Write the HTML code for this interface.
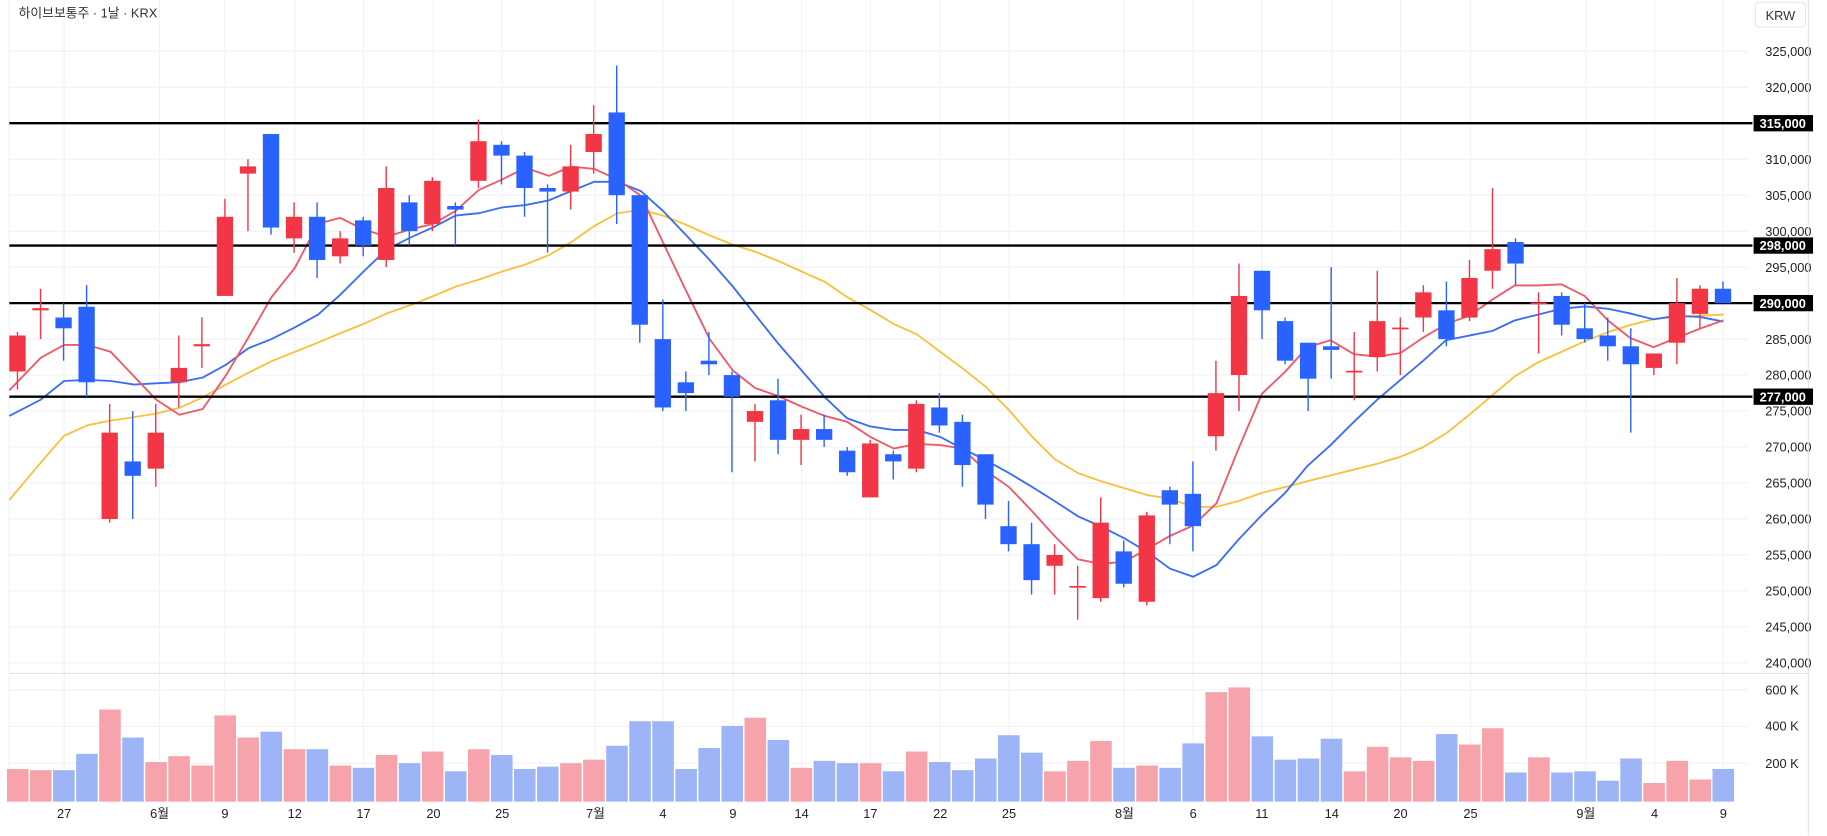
<!DOCTYPE html>
<html><head><meta charset="utf-8"><style>
html,body{margin:0;padding:0;background:#fff;width:1827px;height:836px;overflow:hidden}
svg{display:block}
text{font-family:"Liberation Sans","Noto Sans CJK KR",sans-serif}
</style></head><body>
<svg id="s" width="1827" height="836" viewBox="0 0 1568 717.5" preserveAspectRatio="none" xmlns="http://www.w3.org/2000/svg"></svg>
<script>
const S=document.getElementById('s');let h='';
const y=p=>44+(325-p)*6.176;
for(let p=240;p<=325;p+=5){h+=`<line x1="8" x2="1500" y1="${y(p)}" y2="${y(p)}" stroke="#f0f2f6" stroke-width="1"/>`;
h+=`<text x="1515" y="${y(p)+4}" font-size="11" fill="#222">${p},000</text>`;}
const dl=[[55,'27'],[137,'6월'],[193,'9'],[253,'12'],[312,'17'],[372,'20'],[431,'25'],[511,'7월'],[569,'4'],[629,'9'],[688,'14'],[747,'17'],[807,'22'],[866,'25'],[965,'8월'],[1024,'6'],[1083,'11'],[1143,'14'],[1202,'20'],[1262,'25'],[1361,'9월'],[1420,'4'],[1479,'9']];
dl.forEach(d=>{h+=`<line x1="${d[0]}" x2="${d[0]}" y1="0" y2="688" stroke="#f0f2f6"/>`;h+=`<text x="${d[0]}" y="702" font-size="11" fill="#222" text-anchor="middle">${d[1]}</text>`;});
[592,623.5,655].forEach(v=>h+=`<line x1="8" x2="1500" y1="${v}" y2="${v}" stroke="#f0f2f6"/>`);
h+=`<line x1="8" x2="1552" y1="578" y2="578" stroke="#e0e3eb"/><line x1="1552" x2="1552" y1="0" y2="717" stroke="#e0e3eb"/><line x1="8" x2="8" y1="0" y2="688" stroke="#eef0f4"/>`;
h+=`<text x="1515" y="596" font-size="11" fill="#222">600 K</text><text x="1515" y="627" font-size="11" fill="#222">400 K</text><text x="1515" y="659" font-size="11" fill="#222">200 K</text>`;
const C=[[280.5,285.5,286,278],[289,289.3,292,285],[288,286.5,290,282],[289.5,279,292.5,277],[260,272,276,259.5],[268,266,275,260],[267,272,276,264.5],[279,281,285.5,275.5],[284,284.3,288,281],[291,302,304.5,291],[308,309,310,300],[313.5,300.5,313.5,299.5],[299,302,304,297],[302,296,304,293.5],[296.5,299,300,295.5],[301.5,298,302,296.5],[296,306,309,295],[304,300,305,298],[301,307,307.5,300],[303.5,303,304,298],[307,312.5,315.5,306],[312,310.5,312.5,306.5],[310.5,306,311,302],[306,305.5,306.5,297],[305.5,309,312,303],[311,313.5,317.5,308],[316.5,305,323,301],[305,287,305,284.5],[285,275.5,290.5,275],[279,277.5,280.5,275],[282,281.5,286,280],[280,277,280.5,266.5],[273.5,275,276,268],[276.5,271,279.5,269],[271,272.5,274.5,267.5],[272.5,271,274.5,270],[269.5,266.5,270,266],[263,270.5,271,263],[269,268,269.5,265.5],[267,276,276.5,266.5],[275.5,273,277.5,272],[273.5,267.5,274.5,264.5],[269,262,269,260],[259,256.5,262.5,255.5],[256.5,251.5,259.5,249.5],[253.5,255,256.5,249.5],[250.5,250.7,253.5,246],[249,259.5,263,248.5],[255.5,251,257,250.5],[248.5,260.5,261,248],[264,262,264.5,256.5],[263.5,259,268,255.5],[271.5,277.5,282,269.5],[280,291,295.5,275],[294.5,289,294.5,285],[287.5,282,288,281.5],[284.5,279.5,284.5,275],[284,283.5,295,279.5],[280.5,280.6,286,276.5],[282.5,287.5,294.5,280.5],[286.5,286.6,288,280],[288,291.5,292.5,286],[289,285,293,284],[288,293.5,296,287.5],[294.5,297.5,306,292],[298.5,295.5,299,292.5],[290,290.1,291.5,283],[291,287,291.5,285.5],[286.5,285,290,284.5],[285.5,284,288,282],[284,281.5,286.5,272],[281,283,283,280],[284.5,290,293.5,281.5],[288.5,292,292.5,286.5],[292,290,293,290]];
const V=[660,661,661,647,609,633,654,649,657,614,633,628,643,643,657,659,648,655,645,662,643,648,660,658,655,652,640,619,619,660,642,623,616,635,659,653,655,655,662,645,654,661,651,631,646,662,653,636,659,657,659,638,594,590,632,652,651,634,662,641,650,653,630,639,625,663,650,663,662,670,651,672,653,669,660];
C.forEach((c,i)=>{const x=15+i*19.78;const up=c[1]>=c[0];
h+=`<rect x="${x-9}" y="${V[i]}" width="18.5" height="${688-V[i]}" fill="${up?'#f7a3ab':'#9db5f7'}"/>`;});
const R=[[8,335],[35,307],[55,296],[75,296],[95,302],[115,323],[134,343],[154,356],[174,351],[194,322],[213,290],[233,255],[253,230],[273,192],[292,187],[312,197],[332,203],[352,197],[372,192],[391,181],[411,163],[431,154],[451,144],[471,151],[490,143],[510,145],[530,154],[550,168],[569,208],[589,250],[609,291],[629,318],[648,333],[668,340],[688,349],[708,357],[727,362],[747,375],[767,385],[787,381],[807,382],[826,385],[846,404],[866,418],[886,439],[905,460],[925,480],[945,484],[965,482],[985,471],[1004,460],[1024,451],[1044,432],[1063,385],[1083,338],[1103,319],[1122,298],[1142,292],[1162,304],[1182,306],[1202,303],[1221,290],[1241,278],[1261,271],[1281,257],[1300,245],[1320,245],[1340,244],[1360,254],[1380,275],[1399,290],[1419,298],[1439,290],[1459,282],[1479,275]];
const B=[[8,357],[35,343],[55,327],[75,326],[95,327],[115,330],[134,329],[154,328],[174,324],[194,313],[213,299],[233,291],[253,281],[273,270],[292,253],[312,233],[332,214],[352,204],[372,195],[391,185],[411,183],[431,178],[451,176],[471,172],[490,164],[510,156],[530,156],[550,164],[569,181],[589,202],[609,223],[629,246],[648,270],[668,295],[688,318],[708,341],[727,359],[747,366],[767,369],[787,369],[807,375],[826,385],[846,395],[866,406],[886,418],[905,430],[925,443],[945,452],[965,462],[985,474],[1004,488],[1024,495],[1044,485],[1063,463],[1083,442],[1103,423],[1122,400],[1142,382],[1162,362],[1182,343],[1202,326],[1221,310],[1241,292],[1261,288],[1281,284],[1300,275],[1320,270],[1340,265],[1360,263],[1380,265],[1399,269],[1419,274],[1439,271],[1459,272],[1479,276]];
const Y=[[8,429],[35,397],[55,374],[75,365],[95,361],[115,358],[134,355],[154,350],[174,341],[194,330],[213,320],[233,310],[253,302],[273,294],[292,286],[312,278],[332,269],[352,262],[372,254],[391,246],[411,240],[431,233],[451,227],[471,219],[490,208],[510,194],[530,183],[550,180],[569,185],[589,193],[609,202],[629,210],[648,216],[668,224],[688,233],[708,242],[727,255],[747,266],[767,278],[787,287],[807,302],[826,316],[846,332],[866,352],[886,375],[905,394],[925,406],[945,413],[965,419],[985,425],[1004,428],[1024,435],[1044,435],[1063,430],[1083,423],[1103,418],[1122,413],[1142,408],[1162,403],[1182,398],[1202,392],[1221,384],[1241,372],[1261,356],[1281,339],[1300,323],[1320,311],[1340,302],[1360,293],[1380,285],[1399,279],[1419,274],[1439,272],[1459,271],[1479,270]];
const pl=(a,c)=>h+=`<polyline points="${a.map(p=>p.join(',')).join(' ')}" fill="none" stroke="${c}" stroke-width="1.6"/>`;
pl(Y,'#f7c23d');pl(B,'#3b6ef0');pl(R,'#ee5a68');
[315,298,290,277].forEach(p=>{h+=`<line x1="8" x2="1504" y1="${y(p)}" y2="${y(p)}" stroke="#000" stroke-width="2"/>`;
h+=`<rect x="1505" y="${y(p)-7}" width="51" height="14" fill="#000"/><text x="1530" y="${y(p)+4}" font-size="11" fill="#fff" text-anchor="middle" font-weight="bold">${p},000</text>`;});
C.forEach((c,i)=>{const x=15+i*19.78;const up=c[1]>=c[0];const col=up?'#f23645':'#2962ff';
const t=y(Math.max(c[0],c[1])),b=y(Math.min(c[0],c[1]));
h+=`<line x1="${x}" x2="${x}" y1="${y(c[2])}" y2="${y(c[3])}" stroke="${col}" stroke-width="1.2"/>`;
h+=`<rect x="${x-7}" y="${t}" width="14" height="${Math.max(b-t,1.5)}" fill="${col}"/>`;});
h+=`<text x="16" y="15" font-size="11" fill="#333">하이브보통주 · 1날 · KRX</text>`;
h+=`<rect x="1506.5" y="2" width="43" height="21" rx="3" fill="#fff" stroke="#e6e8ee"/><text x="1528" y="17" font-size="11" fill="#333" text-anchor="middle">KRW</text>`;
S.innerHTML=h;
</script>
</body></html>
